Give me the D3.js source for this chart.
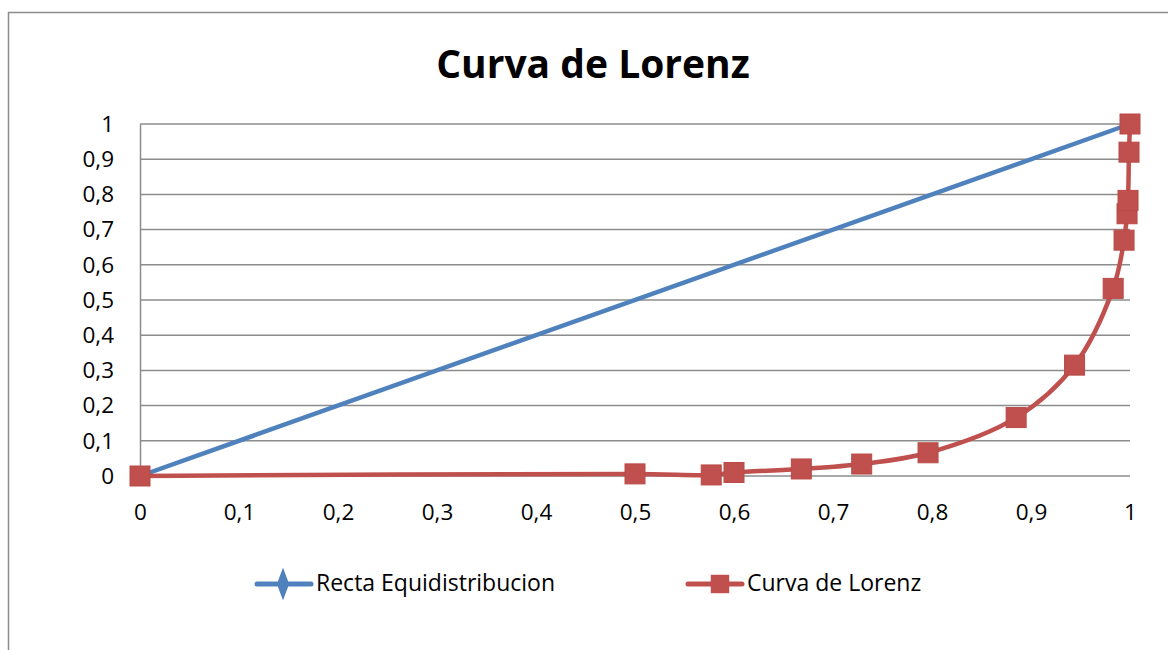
<!DOCTYPE html>
<html>

<head>
  <title>Curva de Lorenz</title>
  <script src="https://cdn.jsdelivr.net/npm/d3@7"></script>
  <style type="text/css">
    body {
      margin: 0;
      background: white;
    }

    text {
      font-family: "Open Sans", Lato, sans-serif;
      fill: black;
    }
  </style>
</head>

<body>
  <div id="chartArea"></div>
  <script type="text/javascript">
    // Recta de equidistribucion
    let equiX = [0, 1];
    let equiY = [0, 1];

    // Curva de Lorenz
    let lorenzX = [0, 0.5, 0.577, 0.6, 0.668, 0.729, 0.796, 0.885, 0.944, 0.983, 0.994, 0.997, 0.998, 0.999, 1];
    let lorenzY = [0, 0.006, 0.003, 0.010, 0.020, 0.034, 0.066, 0.166, 0.315, 0.533, 0.670, 0.745, 0.783, 0.920, 1];

    let tickValues = [0, 0.1, 0.2, 0.3, 0.4, 0.5, 0.6, 0.7, 0.8, 0.9, 1];
    let seriesNames = ['Recta Equidistribucion', 'Curva de Lorenz'];

    let width = 1168;
    let height = 650;

    let margin = {
      top: 124,
      right: 38,
      bottom: 174,
      left: 140
    };

    let w = width - margin.left - margin.right;
    let h = height - margin.top - margin.bottom;

    let blue = '#4f81bd';
    let red = '#c0504d';
    let gridColor = '#8c8c8c';

    let fmt = d => String(d).replace('.', ',');

    let svg = d3.select('#chartArea').append('svg')
      .attr('width', width)
      .attr('height', height);

    // outer chart border (runs off the page on right/bottom)
    svg.append('rect')
      .attr('x', 8.5)
      .attr('y', 12.5)
      .attr('width', 1200)
      .attr('height', 700)
      .attr('fill', 'white')
      .attr('stroke', gridColor)
      .attr('stroke-width', 1.5);

    svg.append('text')
      .attr('x', 593)
      .attr('y', 78)
      .attr('text-anchor', 'middle')
      .style('font-size', '39px')
      .style('font-weight', 'bold')
      .text('Curva de Lorenz');

    let g = svg.append('g')
      .attr('transform', `translate(${margin.left}, ${margin.top})`);

    let xScale = d3.scaleLinear()
      .domain([0, 1])
      .range([0, w]);

    let yScale = d3.scaleLinear()
      .domain([0, 1])
      .range([h, 0]);

    // horizontal gridlines
    g.selectAll('line.grid')
      .data(tickValues)
      .enter()
      .append('line')
      .attr('class', 'grid')
      .attr('x1', 0)
      .attr('x2', w)
      .attr('y1', d => yScale(d))
      .attr('y2', d => yScale(d))
      .attr('stroke', gridColor)
      .attr('stroke-width', 1.5);

    let yAxis = g.append('g')
      .call(d3.axisLeft(yScale).tickValues(tickValues).tickFormat(fmt).tickSize(0).tickPadding(26));
    yAxis.select('.domain').attr('stroke', gridColor).attr('stroke-width', 1.5);
    yAxis.selectAll('text').style('font-size', '22.5px').attr('font-family', null);

    let xAxis = g.append('g')
      .attr('transform', `translate(0, ${h})`)
      .call(d3.axisBottom(xScale).tickValues(tickValues).tickFormat(fmt).tickSize(0).tickPadding(28));
    xAxis.select('.domain').remove();
    xAxis.selectAll('text').style('font-size', '22.5px').attr('font-family', null);

    let equiData = equiX.map((x, i) => [x, equiY[i]]);
    let lorenzData = lorenzX.map((x, i) => [x, lorenzY[i]]);

    let line = d3.line()
      .x(d => xScale(d[0]))
      .y(d => yScale(d[1]));

    g.append('path')
      .datum(equiData)
      .attr('fill', 'none')
      .attr('stroke', blue)
      .attr('stroke-width', 4.5)
      .attr('d', line);

    let diamond = d3.symbol().type(d3.symbolDiamond).size(120);

    g.selectAll('path.equiMark')
      .data(equiData)
      .enter()
      .append('path')
      .attr('class', 'equiMark')
      .attr('transform', d => `translate(${xScale(d[0])}, ${yScale(d[1])})`)
      .attr('d', diamond)
      .attr('fill', blue);

    g.append('path')
      .datum(lorenzData)
      .attr('fill', 'none')
      .attr('stroke', red)
      .attr('stroke-width', 4.5)
      .attr('d', line.curve(d3.curveCatmullRom.alpha(0.5)));

    let sq = 20;
    g.selectAll('rect.lorenzMark')
      .data(lorenzData)
      .enter()
      .append('rect')
      .attr('class', 'lorenzMark')
      .attr('x', d => xScale(d[0]) - sq / 2)
      .attr('y', d => yScale(d[1]) - sq / 2)
      .attr('width', sq)
      .attr('height', sq)
      .attr('fill', red)
      .attr('stroke', '#b94a47')
      .attr('stroke-width', 1);

    // legend
    let legendY = 584;
    let legendX = [257, 688];
    let legend = svg.selectAll('g.legend')
      .data(seriesNames)
      .enter()
      .append('g')
      .attr('class', 'legend')
      .attr('transform', (d, i) => `translate(${legendX[i]}, ${legendY})`);

    legend.append('line')
      .attr('x1', 0)
      .attr('x2', 54)
      .attr('y1', 0)
      .attr('y2', 0)
      .attr('stroke', (d, i) => i === 0 ? blue : red)
      .attr('stroke-width', 5)
      .attr('stroke-linecap', 'round');

    legend.append('path')
      .attr('transform', (d, i) => i === 0 ? 'translate(26, 0) scale(0.75, 1.15)' : 'translate(32, 0)')
      .attr('d', (d, i) => i === 0 ? d3.symbol().type(d3.symbolDiamond).size(230)() : d3.symbol().type(d3.symbolSquare).size(340)())
      .attr('fill', (d, i) => i === 0 ? blue : red);

    legend.append('text')
      .attr('x', 59)
      .attr('y', 6.5)
      .style('font-size', '23px')
      .text(d => d);
  </script>
</body>

</html>
